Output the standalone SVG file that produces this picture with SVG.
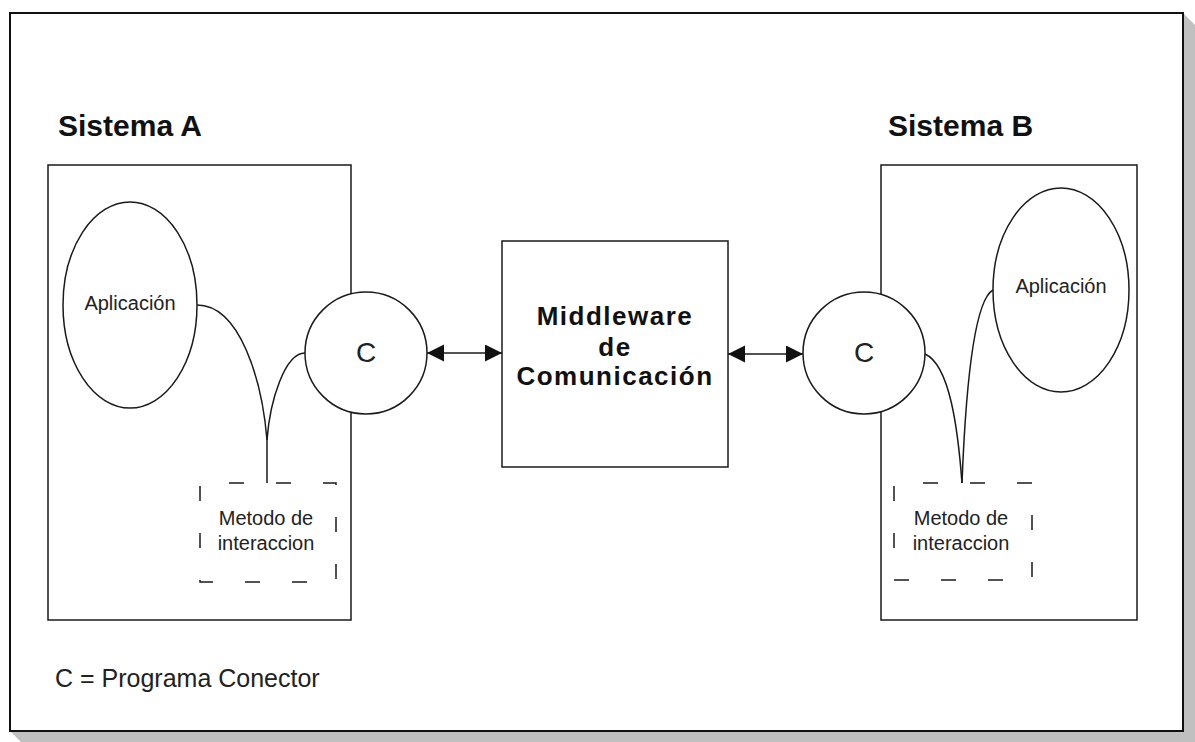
<svg xmlns="http://www.w3.org/2000/svg" width="1195" height="742" viewBox="0 0 1195 742">
  <style>
    .box { fill: #ffffff; stroke: #1a1a1a; stroke-width: 1.5; }
    .shape { fill: #ffffff; stroke: #1a1a1a; stroke-width: 1.5; }
    .dash { fill: none; stroke: #1a1a1a; stroke-width: 1.5; stroke-dasharray: 15 32; }
    .wire { fill: none; stroke: #1a1a1a; stroke-width: 1.5; }
    .title { font-family: "Liberation Sans", Arial, sans-serif; font-weight: bold; font-size: 30px; fill: #111; }
    .mid { font-family: "Liberation Sans", Arial, sans-serif; font-weight: bold; font-size: 26px; letter-spacing: 1.5px; fill: #111; text-anchor: middle; }
    .lbl { font-family: "Liberation Sans", Arial, sans-serif; font-size: 20px; fill: #222; text-anchor: middle; }
    .conn { font-family: "Liberation Sans", Arial, sans-serif; font-size: 28px; fill: #222; text-anchor: middle; }
    .note { font-family: "Liberation Sans", Arial, sans-serif; font-size: 25px; fill: #222; }
  </style>
  <defs>
    <marker id="head" markerUnits="userSpaceOnUse" markerWidth="18" markerHeight="18" refX="17" refY="8.5" orient="auto-start-reverse">
      <path d="M0,0 L17,8.5 L0,17 z" fill="#111"/>
    </marker>
  </defs>

  <!-- page with drop shadow -->
  <polygon points="1183,13 1197,27 1197,745 24,745 10,731" fill="#c0c0c0"/>
  <rect x="10" y="13" width="1173" height="718" fill="#ffffff" stroke="#111" stroke-width="2"/>

  <!-- system A -->
  <g id="sistema-a">
    <text class="title" x="58" y="136">Sistema A</text>
    <rect class="box" x="48" y="165" width="303" height="455"/>
  </g>
  <g id="aplicacion-a">
    <ellipse class="shape" cx="130" cy="305" rx="67" ry="103"/>
    <text class="lbl" x="130" y="310">Aplicación</text>
  </g>
  <g id="metodo-a">
    <rect class="dash" x="200" y="483" width="136" height="99" stroke-dashoffset="-29"/>
    <text class="lbl" x="266" y="525">Metodo de</text>
    <text class="lbl" x="266" y="550">interaccion</text>
  </g>

  <!-- middleware -->
  <g id="middleware">
    <rect class="box" x="502" y="241" width="226" height="226"/>
    <text class="mid" x="615" y="325">Middleware</text>
    <text class="mid" x="615" y="356">de</text>
    <text class="mid" x="615" y="385">Comunicación</text>
  </g>

  <!-- system B -->
  <g id="sistema-b">
    <text class="title" x="888" y="136">Sistema B</text>
    <rect class="box" x="881" y="165" width="256" height="455"/>
  </g>
  <g id="aplicacion-b">
    <ellipse class="shape" cx="1061" cy="290" rx="68" ry="102"/>
    <text class="lbl" x="1061" y="293">Aplicación</text>
  </g>
  <g id="metodo-b">
    <rect class="dash" x="894" y="483" width="138" height="97" stroke-dashoffset="-29"/>
    <text class="lbl" x="961" y="525">Metodo de</text>
    <text class="lbl" x="961" y="550">interaccion</text>
  </g>

  <!-- connectors -->
  <g id="connectors">
    <path class="wire" d="M197,305 C240,305 262,380 267,440 L267,483"/>
    <path class="wire" d="M305,353 C285,353 270,400 267,440"/>
    <path class="wire" d="M925,354 C950,365 958,430 962,483"/>
    <path class="wire" d="M993,290 C975,300 966,380 962,483"/>
    <line class="wire" x1="427" y1="353" x2="502" y2="353" marker-start="url(#head)" marker-end="url(#head)"/>
    <line class="wire" x1="728" y1="354" x2="803" y2="354" marker-start="url(#head)" marker-end="url(#head)"/>
  </g>

  <!-- connector programs -->
  <g id="conector-a">
    <circle class="shape" cx="366" cy="353" r="61"/>
    <text class="conn" x="366" y="362">C</text>
  </g>
  <g id="conector-b">
    <circle class="shape" cx="864" cy="353" r="61"/>
    <text class="conn" x="864" y="362">C</text>
  </g>

  <text class="note" x="55" y="687">C = Programa Conector</text>
</svg>
